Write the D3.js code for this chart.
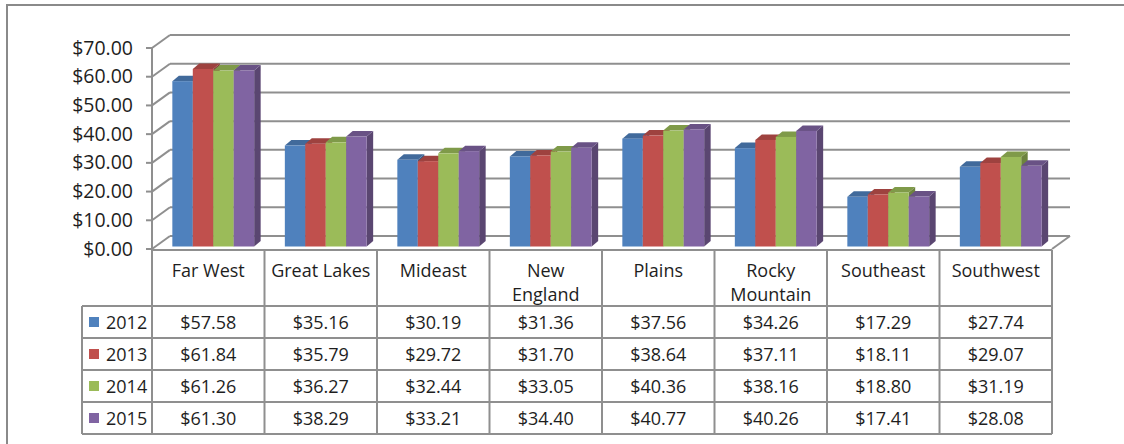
<!DOCTYPE html>
<html><head><meta charset="utf-8">
<script src="https://cdn.jsdelivr.net/npm/d3@7"></script>
<style>body{margin:0;background:#fff}svg{display:block}</style>
</head><body><svg id="c" width="1124" height="444"></svg>
<script>
const categories = ["Far West","Great Lakes","Mideast","New England","Plains","Rocky Mountain","Southeast","Southwest"];
const wrapped = ["New England","Rocky Mountain"];
const years = ["2012","2013","2014","2015"];
const v2012 = [57.58,35.16,30.19,31.36,37.56,34.26,17.29,27.74];
const v2013 = [61.84,35.79,29.72,31.70,38.64,37.11,18.11,29.07];
const v2014 = [61.26,36.27,32.44,33.05,40.36,38.16,18.80,31.19];
const v2015 = [61.30,38.29,33.21,34.40,40.77,40.26,17.41,28.08];
const colors = ["#4F81BD","#C0504D","#9BBB59","#8064A2"];
const yTicks = [0,10,20,30,40,50,60,70];

const series = [v2012,v2013,v2014,v2015];
const svg = d3.select("#c");
const FONT = "'Open Sans', sans-serif";
const GRID = "#8f8f8f";
const TXT = "#1e1e1e";

// layout
const left = 152, right = 1052, y0 = 249, yTop = 48;
const wallDx = 18, wallDy = -13;
const barFront = [5, -2.5], barDepth = [6.5, -5.5];
const tableTop = 250, headerH = 56, rowH = 32, legLeft = 82;

const x = d3.scaleBand().domain(categories).range([left, right]).padding(0);
const xs = d3.scaleBand().domain(years).range([0, x.bandwidth()]).paddingInner(0).paddingOuter(0.75);
const y = d3.scaleLinear().domain([0, 70]).range([y0, yTop]);

// outer frame
svg.append("rect").attr("x",7).attr("y",5).attr("width",1140).attr("height",460)
  .attr("fill","#fff").attr("stroke","#8a8a8a").attr("stroke-width",2);

// back wall gridlines and side wall diagonals
const g = svg.append("g").attr("fill","none").attr("stroke",GRID).attr("stroke-width",2);
yTicks.forEach(t => {
  const yy = y(t);
  g.append("line").attr("x1",left+wallDx).attr("x2",right+wallDx).attr("y1",yy+wallDy).attr("y2",yy+wallDy);
  g.append("line").attr("x1",left).attr("x2",left+wallDx).attr("y1",yy).attr("y2",yy+wallDy);
  g.append("line").attr("x1",left-6).attr("x2",left).attr("y1",yy).attr("y2",yy);
});
// floor right edge
g.append("line").attr("x1",right).attr("y1",y(0)).attr("x2",right+wallDx).attr("y2",y(0)+wallDy);
// y axis line
g.append("line").attr("x1",left).attr("x2",left).attr("y1",y(70)).attr("y2",y(0));

// y tick labels
svg.append("g").selectAll("text").data(yTicks).join("text")
  .attr("x",133).attr("y",d=>y(d)+6.5).attr("text-anchor","end")
  .attr("font-family",FONT).attr("font-size",19.5).attr("fill",TXT)
  .text(d=>"$"+d.toFixed(2));

// bars
const bars = svg.append("g");
categories.forEach((c,ci) => {
  years.forEach((yr,si) => {
    const val = series[si][ci];
    const xl = x(c) + xs(yr) + barFront[0];
    const xr = xl + xs.bandwidth();
    const yt = y(val) + barFront[1];
    const yb = y(0) + barFront[1];
    const dx = barDepth[0], dy = barDepth[1];
    const col = d3.color(colors[si]);
    bars.append("path").attr("d",`M${xr},${yb}L${xr+dx},${yb+dy}L${xr+dx},${yt+dy}L${xr},${yt}Z`)
      .attr("fill",col.darker(1.0));
    bars.append("path").attr("d",`M${xl},${yt}L${xl+dx},${yt+dy}L${xr+dx},${yt+dy}L${xr},${yt}Z`)
      .attr("fill",col.darker(0.55));
    bars.append("rect").attr("x",xl).attr("y",yt).attr("width",xs.bandwidth()).attr("height",yb-yt)
      .attr("fill",colors[si]);
  });
});

// table
const tableBottom = tableTop + headerH + rowH*years.length;
const tg = svg.append("g").attr("stroke",GRID).attr("stroke-width",2).attr("fill","none");
tg.append("line").attr("x1",left).attr("x2",right).attr("y1",tableTop).attr("y2",tableTop);
categories.concat([null]).forEach((c,i) => {
  const xx = c ? x(c) : right;
  tg.append("line").attr("x1",xx).attr("x2",xx).attr("y1",tableTop).attr("y2",tableBottom);
});
for (let r = 0; r <= years.length; r++) {
  const yy = tableTop + headerH + r*rowH;
  tg.append("line").attr("x1",legLeft).attr("x2",right).attr("y1",yy).attr("y2",yy);
}
tg.append("line").attr("x1",legLeft).attr("x2",legLeft).attr("y1",tableTop+headerH).attr("y2",tableBottom);

// header labels
const hg = svg.append("g").attr("font-family",FONT).attr("font-size",18).attr("fill",TXT).attr("text-anchor","middle");
categories.forEach(c => {
  const lines = wrapped.includes(c) ? c.split(" ") : [c];
  const t = hg.append("text").attr("x",x(c)+x.bandwidth()/2).attr("y",tableTop+26.5);
  lines.forEach((ln,i) => t.append("tspan").attr("x",x(c)+x.bandwidth()/2).attr("dy",i?24:0).text(ln));
});

// value cells and legend keys
years.forEach((yr,si) => {
  const rowY = tableTop + headerH + si*rowH;
  categories.forEach((c,ci) => {
    hg.append("text").attr("x",x(c)+x.bandwidth()/2).attr("y",rowY+23)
      .text("$"+series[si][ci].toFixed(2));
  });
  svg.append("rect").attr("x",89).attr("y",rowY+11).attr("width",10).attr("height",10).attr("fill",colors[si]);
  svg.append("text").attr("x",106).attr("y",rowY+23).attr("font-family",FONT).attr("font-size",18)
    .attr("fill",TXT).text(yr);
});
</script></body></html>
